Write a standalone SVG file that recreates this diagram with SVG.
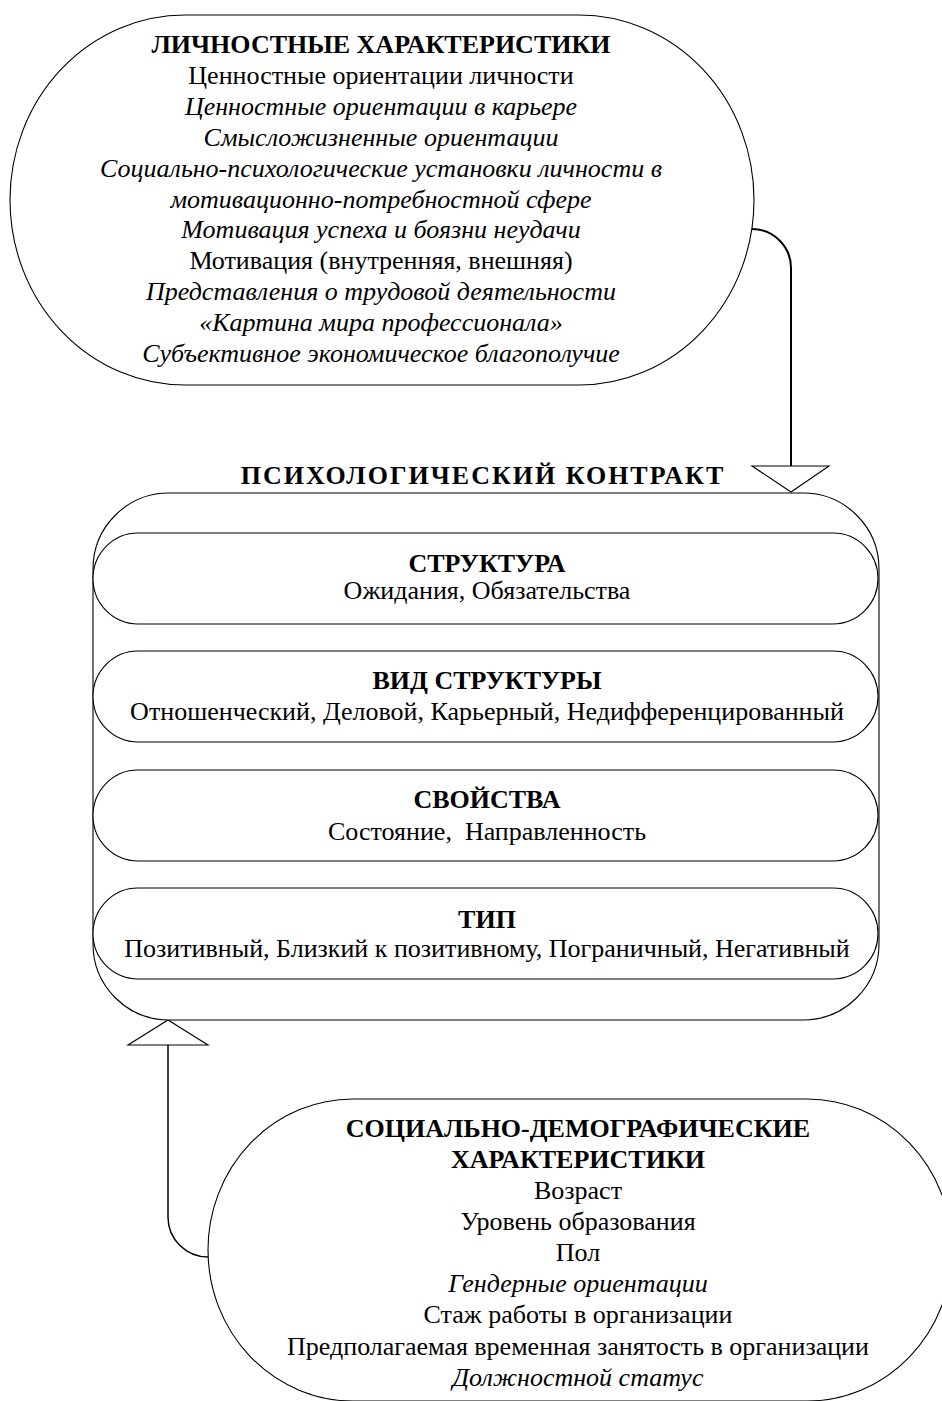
<svg xmlns="http://www.w3.org/2000/svg" width="942" height="1401" viewBox="0 0 942 1401">
<style>
.shape{fill:#fff;stroke:#000;stroke-width:1.1}
.conn{fill:none;stroke:#000}
.head{fill:#fff;stroke:#000;stroke-width:1.1}
text{font-family:"Liberation Serif","Times New Roman",serif;font-size:26px;fill:#000;text-anchor:middle}
.b{font-weight:bold}
.i{font-style:italic}
.ttl{font-weight:bold;letter-spacing:2px}
</style>
<rect width="942" height="1401" fill="#fff"/>
<g id="connectors">
<path class="conn" stroke-width="2" d="M752,229 A39,39 0 0 1 791,268 V466"/>
<polygon class="head" points="752,466 829,466 791,492"/>
<path class="conn" stroke-width="1.5" d="M168,1045 V1217 A40,40 0 0 0 208,1257"/>
<polygon class="head" points="128,1045 208,1045 168,1020"/>
</g>
<g id="personal">
<rect class="shape" x="10" y="15" width="744" height="370" rx="175" ry="185"/>
<text x="381" y="53" class="b">ЛИЧНОСТНЫЕ ХАРАКТЕРИСТИКИ</text>
<text x="381" y="84">Ценностные ориентации личности</text>
<text x="381" y="115" class="i">Ценностные ориентации в карьере</text>
<text x="381" y="146" class="i">Смысложизненные ориентации</text>
<text x="381" y="177" class="i">Социально-психологические установки личности в</text>
<text x="381" y="208" class="i">мотивационно-потребностной сфере</text>
<text x="381" y="238" class="i">Мотивация успеха и боязни неудачи</text>
<text x="381" y="269">Мотивация (внутренняя, внешняя)</text>
<text x="381" y="300" class="i">Представления о трудовой деятельности</text>
<text x="381" y="331" class="i">«Картина мира профессионала»</text>
<text x="381" y="362" class="i">Субъективное экономическое благополучие</text>
</g>
<g id="contract">
<text x="483" y="484" class="ttl">ПСИХОЛОГИЧЕСКИЙ КОНТРАКТ</text>
<rect class="shape" x="93" y="493" width="786" height="527" rx="76" ry="76"/>
</g>
<g id="structure">
<rect class="shape" x="93" y="533" width="785" height="91" rx="45" ry="45.5"/>
<text x="487" y="572" class="b">СТРУКТУРА</text>
<text x="487" y="599">Ожидания, Обязательства</text>
</g>
<g id="structure-kind">
<rect class="shape" x="93" y="651" width="785" height="91" rx="45" ry="45.5"/>
<text x="487" y="689" class="b">ВИД СТРУКТУРЫ</text>
<text x="487" y="720">Отношенческий, Деловой, Карьерный, Недифференцированный</text>
</g>
<g id="properties">
<rect class="shape" x="93" y="770" width="785" height="91" rx="45" ry="45.5"/>
<text x="487" y="808" class="b">СВОЙСТВА</text>
<text x="487" y="840" xml:space="preserve">Состояние,  Направленность</text>
</g>
<g id="type">
<rect class="shape" x="93" y="888" width="785" height="91" rx="45" ry="45.5"/>
<text x="487" y="928" class="b">ТИП</text>
<text x="487" y="957">Позитивный, Близкий к позитивному, Пограничный, Негативный</text>
</g>
<g id="sociodemographic">
<rect class="shape" x="208" y="1099" width="744" height="302" rx="145" ry="151"/>
<text x="578" y="1137" class="b">СОЦИАЛЬНО-ДЕМОГРАФИЧЕСКИЕ</text>
<text x="578" y="1168" class="b">ХАРАКТЕРИСТИКИ</text>
<text x="578" y="1199">Возраст</text>
<text x="578" y="1230">Уровень образования</text>
<text x="578" y="1261">Пол</text>
<text x="578" y="1292" class="i">Гендерные ориентации</text>
<text x="578" y="1323">Стаж работы в организации</text>
<text x="578" y="1355">Предполагаемая временная занятость в организации</text>
<text x="578" y="1386" class="i">Должностной статус</text>
</g>
</svg>
